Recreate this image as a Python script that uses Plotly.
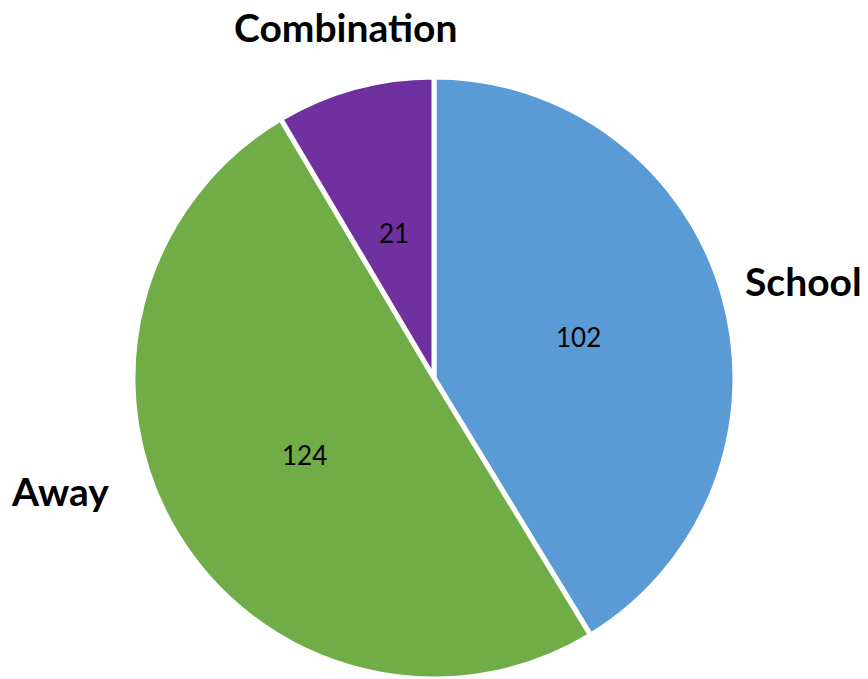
import math
import plotly.graph_objects as go

# Survey responses by location
categories = ["School", "Away", "Combination"]
counts = [102, 124, 21]
colors = ["#5B9BD5", "#70AD47", "#7030A0"]

W, H = 868, 679
cx, cy, R = 434, 378, 301  # pie centre and radius in pixels

fig = go.Figure(
    go.Pie(
        labels=categories,
        values=counts,
        sort=False,
        direction="clockwise",
        rotation=0,
        marker=dict(colors=colors, line=dict(color="white", width=5)),
        textinfo="none",
        hoverinfo="label+value",
        showlegend=False,
        domain=dict(x=[(cx - R) / W, (cx + R) / W],
                    y=[1 - (cy + R) / H, 1 - (cy - R) / H]),
    )
)

annotations = []

# Value labels placed at half radius along each slice's mid-angle
total = sum(counts)
start = 0.0
for cat, v in zip(categories, counts):
    mid = start + v / total * 360 / 2
    start += v / total * 360
    theta = math.radians(90 - mid)
    px = cx + 0.5 * R * math.cos(theta)
    py = cy - 0.5 * R * math.sin(theta)
    annotations.append(dict(
        x=px / W, y=1 - py / H, xref="paper", yref="paper",
        text=str(v), showarrow=False,
        font=dict(family="Lato, Carlito, sans-serif", size=26, color="black"),
        xanchor="center", yanchor="middle",
    ))

# Category names outside the pie
name_pos = {"School": (803, 281), "Away": (60, 491), "Combination": (346, 27)}
for cat in categories:
    px, py = name_pos[cat]
    annotations.append(dict(
        x=px / W, y=1 - py / H, xref="paper", yref="paper",
        text=f"<b>{cat}</b>", showarrow=False,
        font=dict(family="Lato, Carlito, sans-serif", size=39, color="black"),
        xanchor="center", yanchor="middle",
    ))

fig.update_layout(
    width=W, height=H,
    margin=dict(l=0, r=0, t=0, b=0),
    paper_bgcolor="white",
    plot_bgcolor="white",
    annotations=annotations,
)

fig.write_html("out.html")
